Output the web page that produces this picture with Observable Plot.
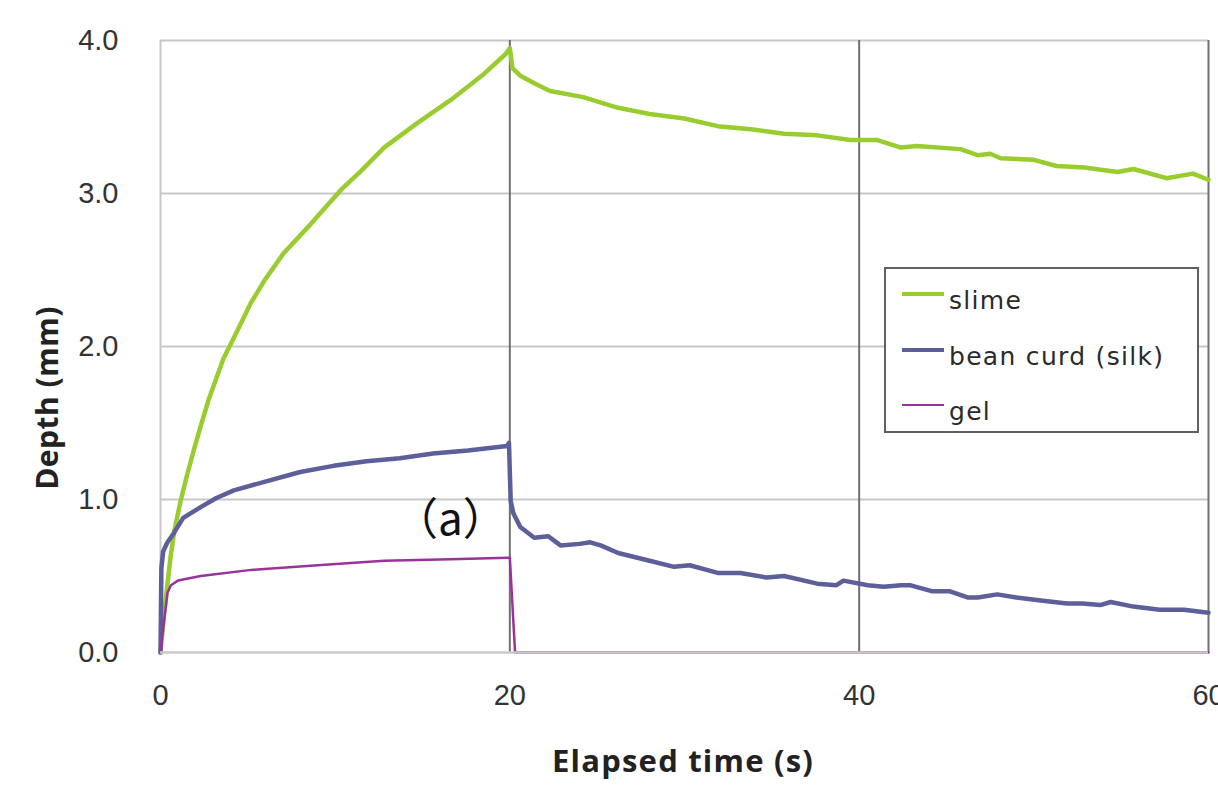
<!DOCTYPE html>
<html>
<head>
<meta charset="utf-8">
<script src="https://cdn.jsdelivr.net/npm/d3@7"></script>
<script src="https://cdn.jsdelivr.net/npm/@observablehq/plot@0.6"></script>
<style>
  html, body { margin: 0; padding: 0; background: #fff; }
  #wrap { position: relative; width: 1218px; height: 785px; overflow: hidden; }
  .ytitle { position: absolute; left: 46px; top: 398px; transform: translate(-50%, -50%) rotate(-90deg);
    font-family: "Open Sans", sans-serif; font-weight: 700; font-size: 30px; color: #222; white-space: nowrap; letter-spacing: 0.5px; }
  .xtitle { position: absolute; left: 683px; top: 760px; transform: translate(-50%, -50%);
    font-family: "Open Sans", sans-serif; font-weight: 700; font-size: 31px; color: #222; white-space: nowrap; letter-spacing: 1.2px; }
  .legend { position: absolute; left: 884px; top: 267px; width: 311px; height: 162px; border: 2px solid #606060; background: #fff; box-sizing: content-box; }
  .item { position: absolute; left: 16px; height: 30px; display: flex; align-items: center;
    font-family: "DejaVu Sans", sans-serif; font-size: 25px; letter-spacing: 1.3px; color: #2b2b2b; white-space: nowrap; }
  .swatch { display: inline-block; width: 42px; margin-right: 5px; position: relative; top: -6px; }
</style>
</head>
<body>
<div id="wrap"></div>
<script>
// ---- data ----
const seriesNames = ["slime", "bean curd (silk)", "gel"];
const seriesColors = ["#99cc2e", "#5c5f99", "#993399"];
const seriesWidths = [4.5, 4.5, 2.5];

const slimeT = [0, 0.2, 0.4, 0.57, 0.8, 1.15, 1.5, 1.9, 2.3, 2.75, 3.6, 4.3, 5.15, 6, 7.05, 8.6, 10.3, 11.5, 12.8, 14.7, 16.6, 18.5, 19.75, 20, 20.15, 20.6, 21.4, 22.3, 24.2, 26.2, 28, 30, 31.9, 33.8, 35.7, 37.6, 39.5, 41, 42.4, 43.3, 45.8, 46.8, 47.5, 48.1, 50, 51.3, 52.9, 54.8, 55.7, 57.6, 59.1, 60];
const slimeV = [0, 0.25, 0.45, 0.62, 0.8, 0.99, 1.15, 1.32, 1.48, 1.65, 1.92, 2.08, 2.28, 2.44, 2.61, 2.80, 3.02, 3.15, 3.30, 3.46, 3.61, 3.78, 3.91, 3.95, 3.82, 3.77, 3.72, 3.67, 3.63, 3.56, 3.52, 3.49, 3.44, 3.42, 3.39, 3.38, 3.35, 3.35, 3.30, 3.31, 3.29, 3.25, 3.26, 3.23, 3.22, 3.18, 3.17, 3.14, 3.16, 3.10, 3.13, 3.09];

const beanT = [0, 0.05, 0.15, 0.4, 0.76, 1.3, 2.3, 3.2, 4.2, 6.1, 8, 9.9, 11.8, 13.7, 15.6, 17.6, 19.85, 19.95, 20.05, 20.2, 20.6, 21.4, 22.2, 22.9, 24, 24.6, 25.2, 26.2, 28, 29.4, 30.3, 31.9, 33.2, 34.7, 35.7, 37.6, 38.7, 39.1, 40.5, 41.4, 42.4, 42.9, 44.2, 45.2, 46.2, 46.8, 47.9, 49, 50.4, 51.9, 52.8, 53.8, 54.4, 55.7, 57.2, 58.6, 60];
const beanV = [0, 0.55, 0.66, 0.72, 0.78, 0.88, 0.95, 1.01, 1.06, 1.12, 1.18, 1.22, 1.25, 1.27, 1.30, 1.32, 1.35, 1.37, 0.99, 0.91, 0.82, 0.75, 0.76, 0.70, 0.71, 0.72, 0.70, 0.65, 0.60, 0.56, 0.57, 0.52, 0.52, 0.49, 0.50, 0.45, 0.44, 0.47, 0.44, 0.43, 0.44, 0.44, 0.40, 0.40, 0.36, 0.36, 0.38, 0.36, 0.34, 0.32, 0.32, 0.31, 0.33, 0.30, 0.28, 0.28, 0.26];

const gelT = [0, 0.2, 0.4, 0.6, 1, 2.3, 5.2, 9, 12.8, 16.6, 19.9, 20, 20.3, 30, 40, 50, 60];
const gelV = [0, 0.2, 0.39, 0.44, 0.47, 0.50, 0.54, 0.57, 0.60, 0.61, 0.62, 0.62, 0, 0, 0, 0, 0];

const xTicks = [0, 20, 40, 60];
const yTicks = [0, 1, 2, 3, 4];
const darkGridX = [20, 40, 60];
const lightGridY = [1, 2, 3, 4];

const annotT = [16.6];
const annotV = [0.86];
const annotText = ["（a）"];

// ---- build tables ----
const toRows = (ts, vs, name) => ts.map((t, i) => ({t, v: vs[i], name}));
const slime = toRows(slimeT, slimeV, seriesNames[0]);
const bean = toRows(beanT, beanV, seriesNames[1]);
const gel = toRows(gelT, gelV, seriesNames[2]);
const annot = annotT.map((t, i) => ({t, v: annotV[i], label: annotText[i]}));

const chart = Plot.plot({
  width: 1218,
  height: 785,
  marginLeft: 160,
  marginRight: 10,
  marginTop: 40,
  marginBottom: 133,
  x: {domain: [0, 60]},
  y: {domain: [0, 4]},
  style: {fontFamily: "'Liberation Sans', Arial, sans-serif", fontSize: "29px", color: "#333", background: "#fff", overflow: "visible"},
  marks: [
    Plot.ruleY(lightGridY, {stroke: "#c8c8c8", strokeWidth: 2}),
    Plot.ruleX([0], {stroke: "#c8c8c8", strokeWidth: 2}),
    Plot.ruleX(darkGridX, {stroke: "#707070", strokeWidth: 2}),
    Plot.axisX({ticks: xTicks, tickSize: 0, tickPadding: 32, label: null, tickFormat: d => String(d)}),
    Plot.axisY({ticks: yTicks, tickSize: 0, tickPadding: 42, label: null, tickFormat: d => d.toFixed(1)}),
    Plot.line(slime, {x: "t", y: "v", stroke: seriesColors[0], strokeWidth: seriesWidths[0], strokeLinejoin: "round"}),
    Plot.line(bean, {x: "t", y: "v", stroke: seriesColors[1], strokeWidth: seriesWidths[1], strokeLinejoin: "round"}),
    Plot.line(gel, {x: "t", y: "v", stroke: seriesColors[2], strokeWidth: seriesWidths[2], strokeLinejoin: "round"}),
    Plot.ruleY([0], {stroke: "#c8c8c8", strokeWidth: 2.5}),
    Plot.text(annot, {x: "t", y: "v", text: "label", fontSize: 44, fill: "#111", fontFamily: "'Noto Sans CJK JP', sans-serif"})
  ]
});

const wrap = document.getElementById("wrap");
wrap.appendChild(chart);

const yt = document.createElement("div");
yt.className = "ytitle"; yt.textContent = "Depth (mm)";
wrap.appendChild(yt);
const xt = document.createElement("div");
xt.className = "xtitle"; xt.textContent = "Elapsed time (s)";
wrap.appendChild(xt);

const legend = document.createElement("div");
legend.className = "legend";
const itemTops = [16, 72, 127];
seriesNames.forEach((name, i) => {
  const it = document.createElement("div");
  it.className = "item";
  it.style.top = itemTops[i] + "px";
  const sw = document.createElement("span");
  sw.className = "swatch";
  sw.style.borderTop = `${seriesWidths[i]}px solid ${seriesColors[i]}`;
  it.appendChild(sw);
  const tx = document.createElement("span");
  tx.textContent = name;
  it.appendChild(tx);
  legend.appendChild(it);
});
wrap.appendChild(legend);
</script>
</body>
</html>
